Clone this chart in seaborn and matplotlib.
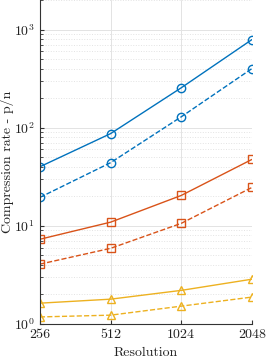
import numpy as np
import pandas as pd
import matplotlib
matplotlib.use("Agg")
import matplotlib.pyplot as plt
import seaborn as sns
from matplotlib.ticker import FixedLocator, FixedFormatter, LogLocator, NullFormatter

# Data
resolution = [256, 512, 1024, 2048]
blue_solid = [40, 87, 255, 790]
blue_dashed = [19.5, 44, 129, 400]
orange_solid = [7.3, 10.9, 20.4, 47.5]
orange_dashed = [4.07, 5.9, 10.6, 24.6]
yellow_solid = [1.63, 1.79, 2.2, 2.86]
yellow_dashed = [1.18, 1.23, 1.52, 1.88]

sns.set_style("ticks")
plt.rcParams["font.family"] = ["serif"]
plt.rcParams["font.serif"] = ["cmr10", "DejaVu Serif"]
plt.rcParams["mathtext.fontset"] = "cm"
plt.rcParams["axes.formatter.use_mathtext"] = True

series = [
    (blue_solid, "#0072BD", "o", "-"),
    (blue_dashed, "#0072BD", "o", "--"),
    (orange_solid, "#D95319", "s", "-"),
    (orange_dashed, "#D95319", "s", "--"),
    (yellow_solid, "#EDB120", "^", "-"),
    (yellow_dashed, "#EDB120", "^", "--"),
]

fig = plt.figure(figsize=(2.66, 3.62), dpi=100)
ax = fig.add_axes([0.150, 0.105, 0.797, 0.895])

for vals, col, mk, ls in series:
    sns.lineplot(x=resolution, y=vals, ax=ax, color=col, marker=mk, linestyle=ls,
                 markersize=6, markerfacecolor="none", markeredgecolor=col,
                 markeredgewidth=1.0, linewidth=1.0)

ax.set_xscale("log", base=2)
ax.set_yscale("log")
ax.set_xlim(256, 2048)
ax.set_ylim(1, 2000)

ax.xaxis.set_major_locator(FixedLocator(resolution))
ax.xaxis.set_major_formatter(FixedFormatter([str(r) for r in resolution]))
ax.xaxis.set_minor_locator(FixedLocator([]))
ax.yaxis.set_major_locator(LogLocator(base=10, numticks=10))
ax.yaxis.set_minor_locator(LogLocator(base=10, subs=np.arange(2, 10), numticks=20))
ax.yaxis.set_minor_formatter(NullFormatter())

ax.grid(True, which="major", color="#e3e3e3", linewidth=0.7)
ax.grid(True, which="minor", axis="y", color="#e3e3e3", linestyle=":", linewidth=0.7)
ax.set_axisbelow(True)

ax.tick_params(which="both", direction="in", color="#333333", labelsize=10, labelcolor="#222222")
ax.tick_params(which="major", length=3)
ax.tick_params(which="minor", length=2)
for s in ["top", "right"]:
    ax.spines[s].set_visible(False)
for s in ["left", "bottom"]:
    ax.spines[s].set_color("#333333")
    ax.spines[s].set_linewidth(0.8)

ax.set_xlabel("Resolution", fontsize=10, color="#222222", labelpad=4)
ax.set_ylabel("Compression rate - p/n", fontsize=10, color="#222222")
ax.yaxis.label.set_verticalalignment("center")
ax.yaxis.set_label_coords(-0.155, 0.5)

fig.savefig("out.png", dpi=100)
